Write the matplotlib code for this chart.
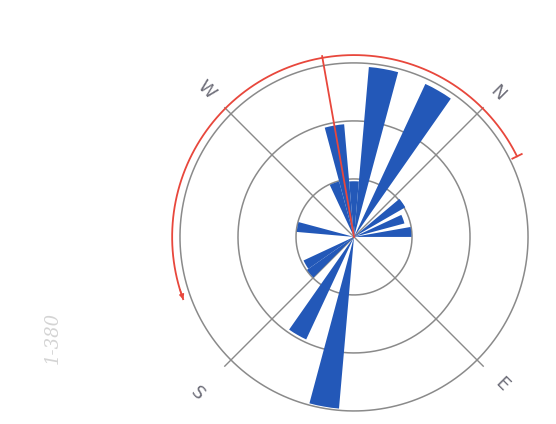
import numpy as np
import matplotlib
matplotlib.use("Agg")
import matplotlib.pyplot as plt

# Petal data: compass bearing of bin start (deg), bin width (deg), relative length (outer ring = 1)
bin_start = [140, 160, 180, 190, 230, 290, 300, 310, 320, 340, 5, 20, 35]
bin_width = [10, 10, 10, 10, 10, 10, 10, 10, 10, 10, 10, 10, 10]
bin_length = [0.99, 0.65, 0.33, 0.32, 0.33, 0.33, 0.65, 0.32, 0.98, 0.97, 0.34, 0.30, 0.33]

ring_levels = [1/3, 2/3, 1.0]
compass_labels = ["N", "E", "S", "W"]
compass_bearings = [0, 90, 180, 270]
label_radius = [1.17, 1.2, 1.27, 1.2]

mean_bearing = 305          # red line
arc_from, arc_to = 205, 378.7   # red arc span (deg, clockwise)
scale_text = "1-380"

BLUE = "#2358b8"
GRAY = "#8a8a8a"
RED = "#e8473c"

fig = plt.figure(figsize=(5.56, 4.24), dpi=100)
ax = fig.add_axes([0.3237, 0.0307, 0.626, 0.821], projection="polar")
ax.set_theta_zero_location("N", offset=-45)
ax.set_theta_direction(-1)
ax.set_ylim(0, 1)
ax.grid(False)
ax.set_xticks([])
ax.set_yticks([])
ax.spines["polar"].set_visible(False)
ax.patch.set_alpha(0)

# rings
t = np.linspace(0, 2 * np.pi, 400)
for r in ring_levels:
    ax.plot(t, np.full_like(t, r), color=GRAY, lw=1.1, clip_on=False, zorder=1)

# compass cross
for b in compass_bearings:
    th = np.deg2rad(b)
    ax.plot([th, th], [0, 1.05], color=GRAY, lw=1.0, clip_on=False, zorder=1)

# petals
ax.bar(np.deg2rad(bin_start), bin_length, width=np.deg2rad(bin_width),
       align="edge", color=BLUE, edgecolor="none", zorder=2)

# compass labels (whole drawing turned 45 degrees clockwise)
for lab, b, rr in zip(compass_labels, compass_bearings, label_radius):
    ax.text(np.deg2rad(b), rr, lab, color="#6f6f7a", fontsize=13,
            rotation=-45, ha="center", va="center", clip_on=False)

# red mean line and arc
ax.plot([np.deg2rad(mean_bearing)] * 2, [0, 1.055], color=RED, lw=1.3,
        clip_on=False, zorder=3)
ta = np.deg2rad(np.linspace(arc_from, arc_to, 300))
ax.plot(ta, np.full_like(ta, 1.045), color=RED, lw=1.3, clip_on=False, zorder=3)
te = np.deg2rad(arc_to)
ax.plot([te, te], [1.015, 1.075], color=RED, lw=1.3, clip_on=False, zorder=3)
ax.annotate("", xy=(np.deg2rad(arc_from - 1), 1.045),
            xytext=(np.deg2rad(arc_from + 4), 1.045),
            arrowprops=dict(arrowstyle="-|>", color=RED, lw=1.0,
                            mutation_scale=7), annotation_clip=False)

fig.text(53 / 556, 1 - 338 / 424, scale_text, rotation=90, color="#d4d4d4",
         fontsize=13, style="italic", family="DejaVu Serif",
         ha="center", va="center")

fig.savefig("out.png", dpi=100)
